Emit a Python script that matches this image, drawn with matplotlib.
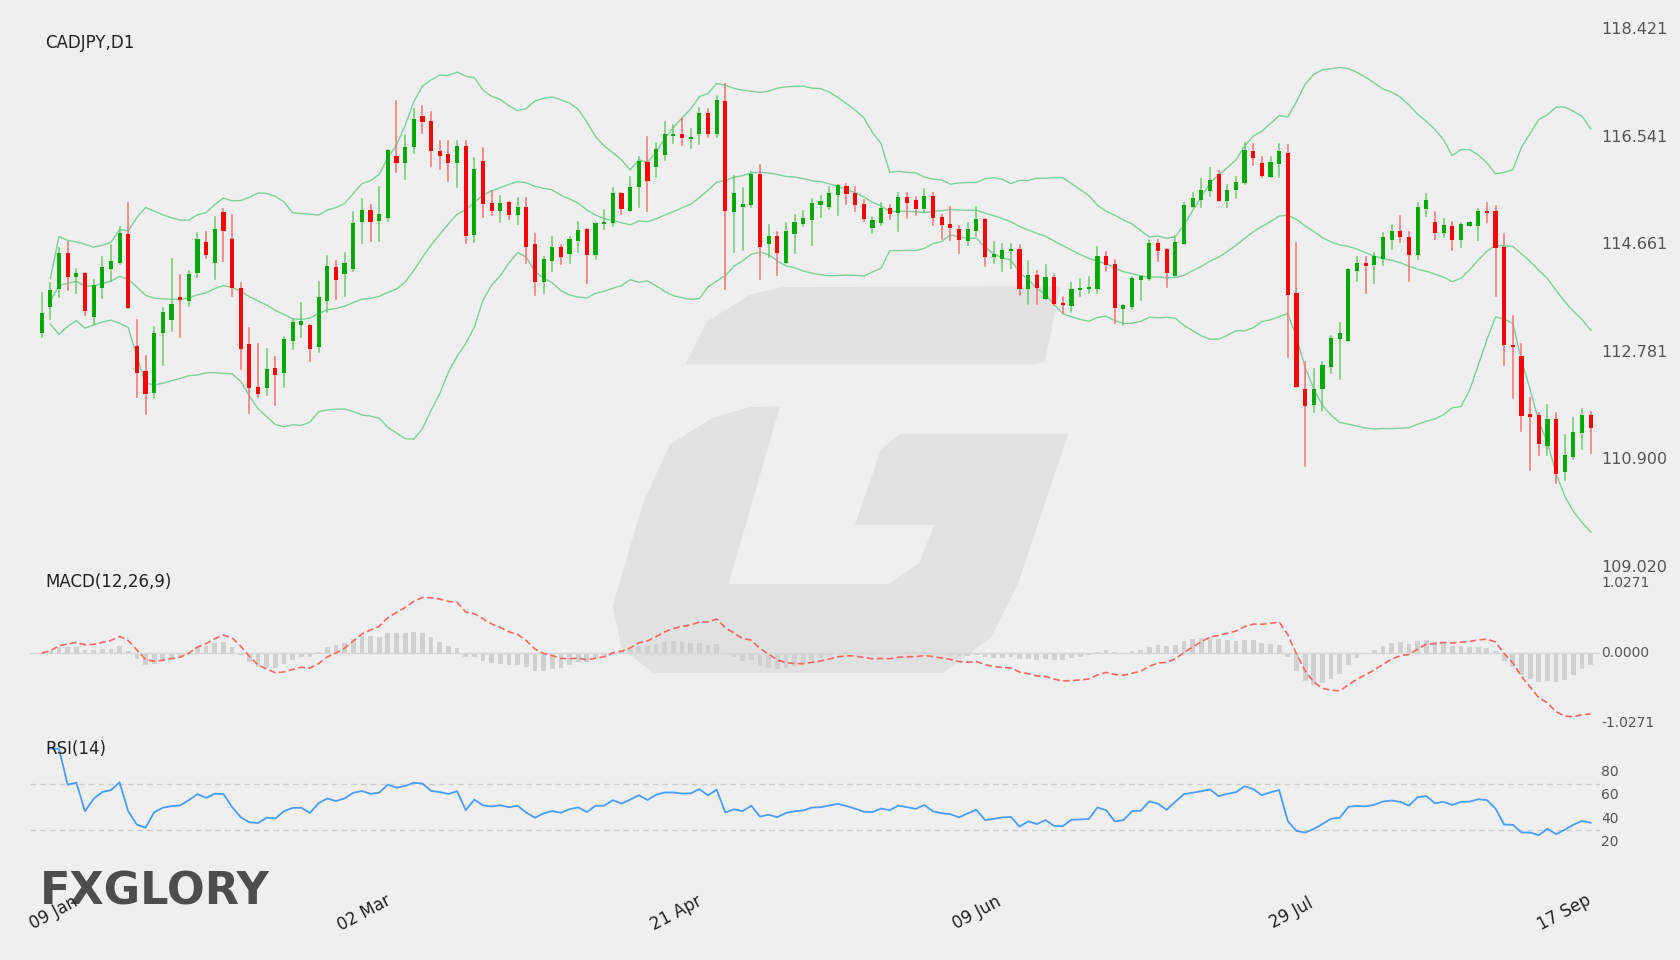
import numpy as np
import pandas as pd
import matplotlib
matplotlib.use("Agg")
import matplotlib.pyplot as plt
from matplotlib.patches import Polygon, Rectangle

symbol_title = "CADJPY,D1"
price_ticks = [118.421, 116.541, 114.661, 112.781, 110.900, 109.020]
macd_ticks = [1.0271, 0.0, -1.0271]
rsi_ticks = [80, 60, 40, 20]
date_labels = ["09 Jan", "02 Mar", "21 Apr", "09 Jun", "29 Jul", "17 Sep"]
date_label_px = [54, 364, 676, 977, 1291, 1564]

opens = [113.11,113.57,113.89,114.51,114.09,114.17,113.39,113.91,114.23,114.35,
         114.85,112.89,112.45,112.07,113.11,113.35,113.75,113.67,114.17,114.71,
         114.34,115.23,114.77,113.90,112.93,112.17,112.15,112.51,112.41,112.97,
         113.25,113.25,112.87,113.67,114.27,114.15,114.23,115.06,115.27,115.07,
         115.13,116.21,116.09,116.37,116.91,116.83,116.30,116.25,116.09,116.39,
         114.83,116.13,115.39,115.25,115.41,115.18,115.33,114.67,114.01,114.37,
         114.62,114.50,114.73,114.94,114.48,115.03,115.04,115.57,115.25,115.67,
         116.11,116.02,116.23,116.56,116.60,116.51,116.60,116.97,116.60,117.17,
         115.23,115.32,115.35,115.90,114.67,114.81,114.34,114.85,115.03,115.09,
         115.35,115.33,115.53,115.69,115.57,115.37,114.95,115.04,115.31,115.21,
         115.49,115.45,115.29,115.51,115.15,115.03,114.93,114.73,114.90,115.11,
         114.45,114.41,114.55,114.59,113.89,114.13,113.71,114.09,113.65,113.59,
         113.87,113.89,113.89,114.46,114.33,113.53,113.57,114.05,114.07,114.69,
         114.59,114.11,114.67,115.33,115.45,115.60,115.90,115.43,115.62,115.74,
         116.30,116.09,115.85,116.07,116.27,113.81,112.13,111.85,112.13,112.52,
         113.01,112.97,114.21,114.35,114.31,114.41,114.75,114.90,114.79,114.48,
         115.29,115.06,114.87,114.99,114.75,114.99,114.99,115.25,115.25,114.62,
         112.91,112.71,111.70,111.68,111.14,111.61,110.68,110.95,111.36,111.68]
highs = [113.81,113.99,114.61,114.71,114.23,114.17,114.05,114.45,114.65,114.97,
         115.39,113.35,112.71,113.23,113.55,114.41,114.13,114.20,114.87,114.89,
         115.15,115.29,115.18,113.99,113.21,112.93,112.83,112.69,113.05,113.37,
         113.65,113.25,114.01,114.47,114.37,114.51,115.23,115.46,115.35,115.67,
         116.32,117.17,116.58,117.04,117.09,116.98,116.47,116.47,116.47,116.47,
         116.18,116.35,115.60,115.51,115.41,115.48,115.48,114.85,114.45,114.79,
         114.65,114.79,115.06,114.94,115.04,115.27,115.65,115.57,115.85,116.19,
         116.55,116.44,116.81,116.75,116.88,116.69,117.06,117.04,117.26,117.47,
         115.86,115.65,115.93,116.06,115.01,114.89,115.04,115.18,115.25,115.46,
         115.51,115.67,115.71,115.72,115.67,115.45,115.15,115.39,115.35,115.57,
         115.57,115.49,115.63,115.57,115.18,115.32,114.99,115.04,115.33,115.11,
         114.71,114.67,114.67,114.65,114.37,114.20,114.31,114.13,113.75,113.99,
         114.06,114.09,114.62,114.53,114.39,113.61,114.09,114.11,114.75,114.75,
         114.59,114.81,115.39,115.57,115.81,116.00,115.95,115.71,115.85,116.44,
         116.42,116.19,116.19,116.42,116.41,114.69,112.61,112.49,112.61,113.07,
         113.29,114.23,114.45,114.45,114.51,114.87,115.01,115.17,114.89,115.39,
         115.55,115.23,115.11,115.06,115.04,115.06,115.29,115.39,115.34,114.85,
         113.41,112.92,111.98,111.72,111.86,111.72,111.33,111.63,111.79,111.73]
lows = [113.05,113.37,113.75,113.87,113.81,113.43,113.25,113.73,114.03,114.32,
        113.55,111.99,111.69,111.97,112.55,113.15,113.05,113.59,114.09,114.43,
        114.07,114.37,113.77,112.49,111.71,111.99,112.03,111.85,112.17,112.83,
        113.05,112.63,112.79,113.49,113.71,113.77,114.20,114.69,114.73,114.73,
        115.07,115.93,115.81,116.27,116.61,116.04,115.99,115.77,115.67,114.69,
        114.71,115.15,115.18,115.06,115.11,115.03,114.34,113.79,113.81,114.21,
        114.33,114.35,114.53,113.99,114.41,114.94,114.99,115.20,115.25,115.33,
        115.25,115.85,116.14,116.44,116.41,116.35,116.42,116.55,116.55,113.89,
        114.53,114.57,115.32,114.07,114.45,114.13,114.34,114.51,114.99,114.65,
        115.15,115.29,115.18,115.37,115.25,115.07,114.87,115.01,115.11,114.90,
        115.13,115.18,115.23,115.01,114.77,114.75,114.51,114.65,114.81,114.29,
        114.35,114.21,114.25,113.79,113.62,113.62,113.71,113.61,113.47,113.49,
        113.77,113.81,113.81,114.21,113.29,113.25,113.53,113.69,114.05,114.37,
        113.93,114.11,114.67,115.32,115.32,115.51,115.43,115.32,115.48,115.72,
        116.06,115.85,115.85,115.85,112.69,112.17,110.79,111.73,111.75,112.41,
        112.31,112.97,114.03,113.81,113.99,114.31,114.59,114.71,114.03,114.41,
        115.17,114.76,114.79,114.57,114.62,114.99,114.75,115.06,113.77,112.56,
        111.98,111.40,110.72,110.98,110.98,110.49,110.54,110.91,111.09,111.02]
closes = [113.47,113.87,114.51,114.09,114.17,113.51,113.95,114.27,114.37,114.87,
          113.55,112.41,112.05,113.11,113.49,113.63,113.69,114.15,114.76,114.49,
          114.93,114.91,113.91,112.83,112.15,112.05,112.49,112.39,113.01,113.31,
          113.33,112.83,113.75,114.29,114.05,114.35,115.04,115.27,115.06,115.20,
          116.32,116.09,116.37,116.86,116.81,116.30,116.22,116.09,116.39,114.81,
          115.99,115.37,115.25,115.39,115.18,115.33,114.63,114.01,114.41,114.62,
          114.45,114.76,114.92,114.48,115.04,115.04,115.57,115.29,115.67,116.13,
          115.77,116.33,116.60,116.60,116.53,116.55,116.97,116.60,117.19,115.25,
          115.57,115.37,115.90,114.63,114.81,114.51,114.90,115.06,115.13,115.39,
          115.43,115.57,115.71,115.55,115.35,115.11,115.09,115.31,115.20,115.49,
          115.39,115.29,115.51,115.13,115.01,114.95,114.75,114.93,115.11,114.45,
          114.50,114.57,114.59,113.89,114.13,113.91,114.09,113.62,113.61,113.89,
          113.90,113.92,114.46,114.31,113.55,113.61,114.08,114.11,114.69,114.55,
          114.17,114.71,115.35,115.48,115.62,115.79,115.43,115.62,115.76,116.32,
          116.18,115.86,116.11,116.30,113.79,112.17,111.83,112.13,112.55,113.03,
          113.11,114.23,114.34,114.29,114.46,114.80,114.90,114.79,114.48,115.32,
          115.45,114.87,115.01,114.75,115.03,115.06,115.26,115.21,114.60,112.91,
          112.87,111.66,111.65,111.17,111.61,110.65,110.98,111.38,111.68,111.45]

df = pd.DataFrame({"open": opens, "high": highs, "low": lows, "close": closes})
n = len(df)
idx = np.arange(n)
c = df["close"]
mid = c.rolling(20, min_periods=2).mean()
sd = c.rolling(20, min_periods=2).std(ddof=0)
up = mid + 2 * sd
lo = mid - 2 * sd
ema12 = c.ewm(span=12, adjust=False).mean()
ema26 = c.ewm(span=26, adjust=False).mean()
macd = ema12 - ema26
signal = macd.ewm(span=9, adjust=False).mean()
hist = macd - signal
delta = c.diff()
gain = delta.clip(lower=0).ewm(alpha=1/14, adjust=True).mean()
loss = (-delta.clip(upper=0)).ewm(alpha=1/14, adjust=True).mean()
rsi = 100 - 100 / (1 + gain / loss)

BG = "#efefef"
W, H = 1680, 960
fig = plt.figure(figsize=(16.8, 9.6), dpi=100, facecolor=BG)

def ax_at(x0, y0, x1, y1):
    a = fig.add_axes([x0 / W, 1 - y1 / H, (x1 - x0) / W, (y1 - y0) / H])
    a.set_facecolor("none")
    for s in a.spines.values():
        s.set_visible(False)
    a.set_xticks([]); a.set_yticks([])
    return a

# watermark
s = W / 1568
wm = ax_at(0, 0, W, H); wm.set_xlim(0, W); wm.set_ylim(H, 0); wm.set_zorder(0)
top_bar = [(640, 340), (660, 300), (700, 275), (730, 268), (990, 267), (975, 338), (965, 340)]
g_shape = [(728, 379), (680, 545), (830, 545), (858, 525), (872, 490), (798, 490), (822, 420),
           (840, 405), (997, 405), (950, 545), (925, 595), (880, 628), (610, 628), (580, 605),
           (572, 565), (600, 470), (625, 415), (665, 390), (700, 380)]
for poly in (top_bar, g_shape):
    wm.add_patch(Polygon([(x * s, y * s) for x, y in poly], closed=True, color="#e1e1e1", lw=0))

x0px, x1px = 30, 1600
xl = (-(41.7 - x0px) / 8.654, 179 + (x1px - 1590.7) / 8.654)

# price panel
ax = ax_at(x0px, 30, x1px, 567); ax.set_zorder(2)
ax.set_xlim(*xl); ax.set_ylim(109.020, 118.421)
for b in (up, mid, lo):
    ax.plot(idx, b, color="#7ccf9c", lw=1.0)
for i in range(n):
    o, h, l, cl = df.loc[i, ["open", "high", "low", "close"]]
    col = "#00a800" if cl >= o else "#ff0000"
    wcol = "#6cc86c" if cl >= o else "#ff7070"
    ax.plot([i, i], [l, h], color=wcol, lw=1.1, zorder=3)
    bh = max(abs(cl - o), 0.03)
    ax.add_patch(Rectangle((i - 0.24, min(o, cl)), 0.48, bh, color=col, zorder=4, lw=0))
for t in price_ticks:
    fig.text(1601 / W, 1 - (30 + (118.421 - t) / 9.401 * 537) / H, f"{t:.3f}",
             fontsize=11.5, color="#555555", va="center", ha="left")
fig.text(45 / W, 1 - 43 / H, symbol_title, fontsize=12, color="#222222", va="center")

# MACD panel
am = ax_at(x0px, 583, x1px, 723); am.set_zorder(2)
am.set_xlim(*xl); am.set_ylim(-1.0271, 1.0271)
am.axhline(0, color="#d6d6d6", lw=1)
am.bar(idx, hist, width=0.55, color="#d0d0d0")
am.plot(idx, macd, color="#ff6666", lw=1.2, ls=(0, (4, 2)))
for t in macd_ticks:
    fig.text(1601 / W, 1 - (653 - t / 1.0271 * 70) / H, f"{t:.4f}",
             fontsize=10, color="#555555", va="center", ha="left")
fig.text(45 / W, 1 - 582 / H, "MACD(12,26,9)", fontsize=12, color="#222222", va="center")

# RSI panel
ar = ax_at(x0px, 772, x1px, 842); ar.set_zorder(2)
ar.set_xlim(*xl); ar.set_ylim(20, 80)
ar.axhline(70, color="#cccccc", lw=1, ls=(0, (4, 3)))
ar.axhline(30, color="#cccccc", lw=1, ls=(0, (4, 3)))
ar.plot(idx, rsi, color="#4a9cff", lw=1.3, clip_on=False)
for t in rsi_ticks:
    fig.text(1601 / W, 1 - (772 + (80 - t) / 60 * 70) / H, f"{t}",
             fontsize=10, color="#555555", va="center", ha="left")
fig.text(45 / W, 1 - 749 / H, "RSI(14)", fontsize=12, color="#222222", va="center")

# logo
fig.text(40 / W, 1 - 892 / H, "FXGLORY", fontsize=32, fontweight="bold", color="#4d4d4d",
         va="center", ha="left", family="DejaVu Sans")

for lab, px in zip(date_labels, date_label_px):
    fig.text(px / W, 1 - 913 / H, lab, fontsize=12, color="#222222", rotation=28,
             ha="center", va="center")

fig.savefig("out.png", dpi=100, facecolor=BG)
